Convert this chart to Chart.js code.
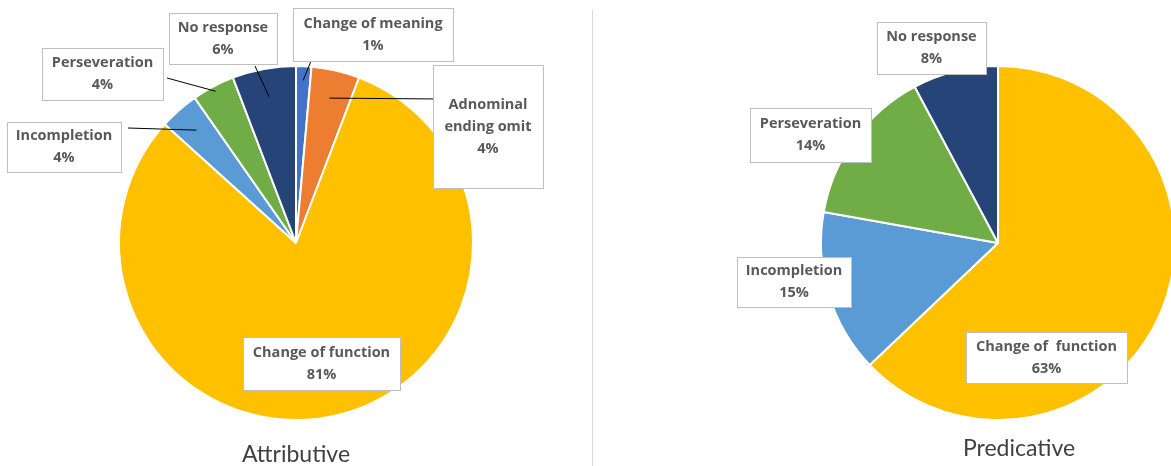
<!DOCTYPE html>
<html>
<head>
<meta charset="utf-8">
<script src="https://cdn.jsdelivr.net/npm/chart.js@4.4.0/dist/chart.umd.min.js"></script>
<style>
    html, body { margin: 0; padding: 0; background: #fff; overflow: hidden; width: 1171px; height: 466px; }
    body { position: relative; }
    #left { position: absolute; left: 0; top: 0; }
    #right { position: absolute; left: 600px; top: 0; }
    #divider { position: absolute; left: 592px; top: 10px; width: 1px; height: 456px; background: #d9d9d9; }
</style>
</head>
<body>
<canvas id="left" width="592" height="466"></canvas>
<div id="divider"></div>
<canvas id="right" width="796" height="466"></canvas>
<script>
    // Attributive
    const attrCategories = ['Change of meaning', 'Adnominal\nending omit', 'Change of function', 'Incompletion', 'Perseveration', 'No response'];
    const attrValues = [1.4, 4.4, 80.9, 3.6, 3.9, 5.8];
    const attrColors = ['#4472C4', '#ED7D31', '#FFC000', '#5B9BD5', '#70AD47', '#264478'];

    // Predicative
    const predCategories = ['Change of  function', 'Incompletion', 'Perseveration', 'No response'];
    const predValues = [62.9, 14.9, 14.4, 7.8];
    const predColors = ['#FFC000', '#5B9BD5', '#70AD47', '#264478'];

    // label boxes in page pixels, leader start point, tip = fraction of radius the leader reaches
    const attrCallouts = [
        { box: [293, 8, 160, 53], from: [311, 61], tip: 0.92 },
        { box: [433, 65, 110, 123], from: [441, 99], tip: 0.84 },
        { box: [243, 337, 157, 53] },
        { box: [7, 122, 114, 50], from: [128, 128], tip: 0.85 },
        { box: [42, 48, 121, 52], from: [167, 78], tip: 0.97 },
        { box: [169, 13, 108, 51], from: [255, 66], tip: 0.84 }
    ];
    const predCallouts = [
        { box: [966, 332, 161, 51] },
        { box: [737, 257, 114, 50] },
        { box: [750, 108, 121, 54] },
        { box: [877, 22, 109, 52] }
    ];

    const makeCallouts = (callouts, offsetX, title, titleX, titleY) => ({
        id: 'callouts',
        afterDatasetsDraw(chart) {
            const ctx = chart.ctx;
            const meta = chart.getDatasetMeta(0);
            const values = chart.data.datasets[0].data;
            const total = values.reduce((a, b) => a + b, 0);
            ctx.save();

            // leader lines
            ctx.strokeStyle = '#000';
            ctx.lineWidth = 1;
            callouts.forEach((c, i) => {
                if (!c.from) return;
                const arc = meta.data[i];
                const p = arc.getProps(['x', 'y', 'startAngle', 'endAngle', 'outerRadius'], true);
                const mid = (p.startAngle + p.endAngle) / 2;
                const tx = p.x + Math.cos(mid) * p.outerRadius * c.tip;
                const ty = p.y + Math.sin(mid) * p.outerRadius * c.tip;
                ctx.beginPath();
                ctx.moveTo(c.from[0] - offsetX, c.from[1]);
                ctx.lineTo(tx, ty);
                ctx.stroke();
            });

            // boxes + text
            ctx.font = 'bold 14.5px "Open Sans"';
            ctx.textAlign = 'center';
            ctx.textBaseline = 'middle';
            callouts.forEach((c, i) => {
                const [bx, by, bw, bh] = c.box;
                const x = bx - offsetX;
                ctx.fillStyle = '#fff';
                ctx.fillRect(x, by, bw, bh);
                ctx.strokeStyle = '#bfbfbf';
                ctx.strokeRect(x + 0.5, by + 0.5, bw, bh);
                const lines = chart.data.labels[i].split('\n');
                lines.push(Math.round(values[i] / total * 100) + '%');
                const lh = 22;
                const cy = by + bh / 2 - (lines.length - 1) * lh / 2;
                ctx.fillStyle = '#595959';
                lines.forEach((t, k) => ctx.fillText(t, x + bw / 2, cy + k * lh));
            });

            ctx.font = '23px Lato';
            ctx.fillStyle = '#404040';
            ctx.fillText(title, titleX - offsetX, titleY);
            ctx.restore();
        }
    });

    const pieOptions = (padX) => ({
        responsive: false,
        animation: false,
        layout: { padding: { left: padX, right: padX, top: 65, bottom: 45 } },
        plugins: { legend: { display: false }, tooltip: { enabled: false } }
    });

    new Chart(document.getElementById('left'), {
        type: 'pie',
        data: {
            labels: attrCategories,
            datasets: [{ data: attrValues, backgroundColor: attrColors, borderColor: '#fff', borderWidth: 2 }]
        },
        options: pieOptions(118),
        plugins: [makeCallouts(attrCallouts, 0, 'Attributive', 296, 455)]
    });

    new Chart(document.getElementById('right'), {
        type: 'pie',
        data: {
            labels: predCategories,
            datasets: [{ data: predValues, backgroundColor: predColors, borderColor: '#fff', borderWidth: 2 }]
        },
        options: pieOptions(220),
        plugins: [makeCallouts(predCallouts, 600, 'Predicative', 1019, 449)]
    });
</script>
</body>
</html>
